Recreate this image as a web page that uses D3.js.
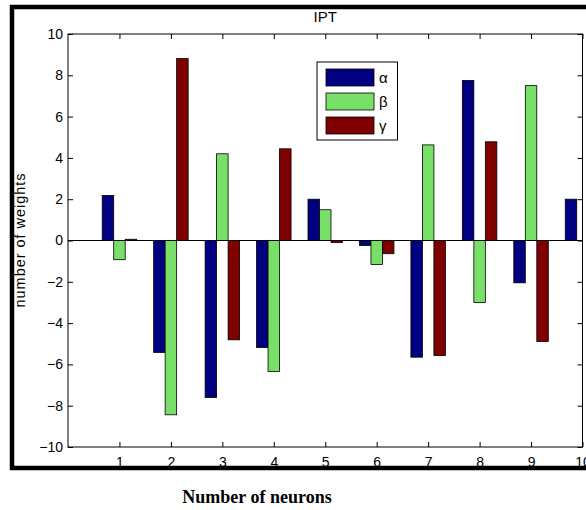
<!DOCTYPE html>
<meta charset="utf-8">
<style>
    body { margin: 0; background: #fff; }
    svg { display: block; font-family: 'Liberation Sans', Arial, sans-serif; }
    .axis .domain { display: none; }
    .axis line { stroke: #000; }
    .axis text { font-size: 14px; fill: #000; }
</style>
<svg width="586" height="510"></svg>
<script src="https://d3js.org/d3.v7.min.js"></script>
<script>
    // data
    var neurons = [1, 2, 3, 4, 5, 6, 7, 8, 9, 10];
    var alpha = [2.18, -5.42, -7.6, -5.18, 2.0, -0.24, -5.65, 7.75, -2.05, 2.0];
    var beta  = [-0.93, -8.44, 4.2, -6.34, 1.49, -1.16, 4.63, -3.0, 7.5, 0];
    var gamma = [0.06, 8.81, -4.81, 4.44, -0.1, -0.64, -5.57, 4.78, -4.89, 0];
    var seriesNames = ["\u03b1", "\u03b2", "\u03b3"];
    var colors = ["#000080", "#78e068", "#7f0000"];
    var yTicks = [-10, -8, -6, -4, -2, 0, 2, 4, 6, 8, 10];

    var svg = d3.select("svg");
    var pLeft = 68, pRight = 582.5, pTop = 34, pBottom = 447;

    var x = d3.scaleLinear().domain([0, 10]).range([pLeft, pRight]);
    var y = d3.scaleLinear().domain([-10, 10]).range([pBottom, pTop]);

    // outer thick frame
    svg.append("rect")
        .attr("x", 12).attr("y", 7)
        .attr("width", 600).attr("height", 461)
        .attr("fill", "#fff")
        .attr("stroke", "#000")
        .attr("stroke-width", 4.5);

    svg.append("defs").append("clipPath").attr("id", "plot")
        .append("rect")
        .attr("x", pLeft).attr("y", pTop)
        .attr("width", pRight - pLeft).attr("height", pBottom - pTop);

    // bars
    var series = [alpha, beta, gamma];
    var bw = 0.2235;
    var bars = svg.append("g").attr("clip-path", "url(#plot)");
    series.forEach(function(vals, s) {
        bars.append("g")
            .selectAll("rect")
            .data(vals)
            .enter().append("rect")
            .attr("x", function(d, i) { return x(neurons[i] + (s - 1) * bw - bw / 2); })
            .attr("width", x(bw) - x(0))
            .attr("y", function(d) { return Math.min(y(d), y(0)); })
            .attr("height", function(d) { return Math.abs(y(d) - y(0)); })
            .attr("fill", colors[s])
            .attr("stroke", "#000")
            .attr("stroke-width", 0.8);
    });

    // zero baseline
    svg.append("line")
        .attr("x1", pLeft).attr("x2", pRight)
        .attr("y1", y(0)).attr("y2", y(0))
        .attr("stroke", "#000").attr("stroke-width", 1);

    // axes, ticks pointing inward
    svg.append("g").attr("class", "axis")
        .attr("transform", "translate(" + pLeft + ",0)")
        .call(d3.axisLeft(y).tickValues(yTicks).tickSizeInner(-5).tickSizeOuter(0).tickPadding(5));
    svg.append("g").attr("class", "axis")
        .attr("transform", "translate(" + pRight + ",0)")
        .call(d3.axisRight(y).tickValues(yTicks).tickSizeInner(-5).tickSizeOuter(0).tickFormat(""));
    svg.append("g").attr("class", "axis")
        .attr("transform", "translate(0," + pBottom + ")")
        .call(d3.axisBottom(x).tickValues(neurons).tickSizeInner(-5).tickSizeOuter(0).tickPadding(10));
    svg.append("g").attr("class", "axis")
        .attr("transform", "translate(0," + pTop + ")")
        .call(d3.axisTop(x).tickValues(neurons).tickSizeInner(-5).tickSizeOuter(0).tickFormat(""));

    // plot box
    svg.append("rect")
        .attr("x", pLeft).attr("y", pTop)
        .attr("width", pRight - pLeft).attr("height", pBottom - pTop)
        .attr("fill", "none").attr("stroke", "#000").attr("stroke-width", 1);

    // title
    svg.append("text")
        .attr("x", (pLeft + pRight) / 2).attr("y", 22)
        .attr("text-anchor", "middle")
        .style("font-size", "15px")
        .text("IPT");

    // y label
    svg.append("text")
        .attr("transform", "translate(25," + y(0) + ") rotate(-90)")
        .attr("text-anchor", "middle")
        .attr("textLength", 134)
        .attr("lengthAdjust", "spacing")
        .style("font-size", "14.5px")
        .text("number of weights");

    // x label
    svg.append("text")
        .attr("x", 257).attr("y", 503)
        .attr("text-anchor", "middle")
        .style("font-family", "'Liberation Serif', 'Times New Roman', serif")
        .style("font-weight", "bold")
        .style("font-size", "18px")
        .text("Number of neurons");

    // legend
    var legend = svg.append("g").attr("transform", "translate(317,62)");
    legend.append("rect")
        .attr("width", 80.5).attr("height", 78)
        .attr("fill", "#fff").attr("stroke", "#000").attr("stroke-width", 1);
    var item = legend.selectAll("g.item")
        .data(seriesNames)
        .enter().append("g")
        .attr("class", "item")
        .attr("transform", function(d, i) { return "translate(9," + (7 + i * 24) + ")"; });
    item.append("rect")
        .attr("width", 48).attr("height", 17)
        .attr("fill", function(d, i) { return colors[i]; })
        .attr("stroke", "#000").attr("stroke-width", 0.8);
    item.append("text")
        .attr("x", 53).attr("y", 8.5)
        .attr("dy", "0.35em")
        .style("font-size", "15px")
        .text(function(d) { return d; });
</script>
